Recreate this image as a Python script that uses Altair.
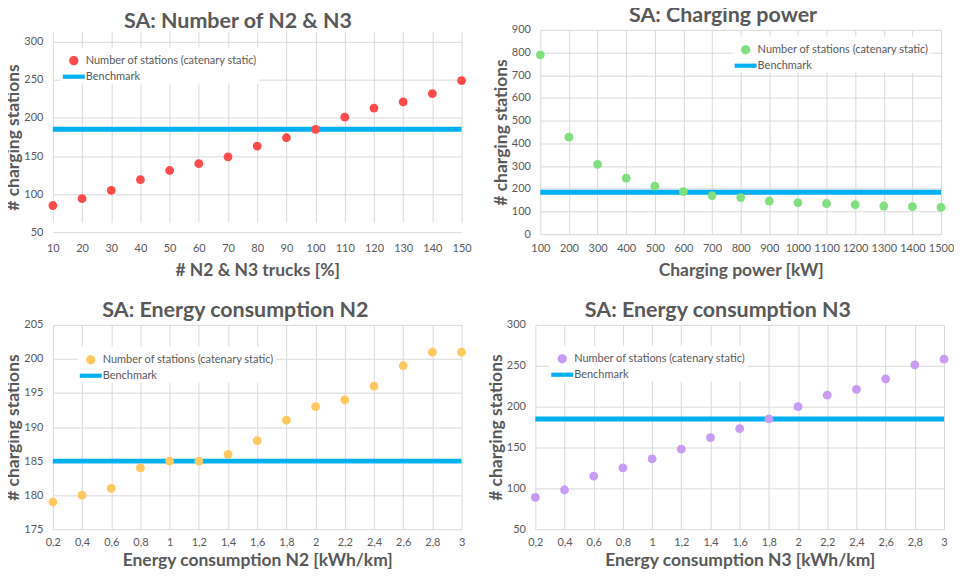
import altair as alt
import pandas as pd

# ---------------- data ----------------
p1_x = [10, 20, 30, 40, 50, 60, 70, 80, 90, 100, 110, 120, 130, 140, 150]
p1_y = [85, 94, 105, 119, 131, 140, 149, 163, 174, 185, 201, 213, 221, 232, 249]

p2_x = [100, 200, 300, 400, 500, 600, 700, 800, 900, 1000, 1100, 1200, 1300, 1400, 1500]
p2_y = [790, 427, 307, 247, 212, 187, 170, 161, 146, 139, 135, 130, 124, 121, 118]

p3_x = [0.2, 0.4, 0.6, 0.8, 1.0, 1.2, 1.4, 1.6, 1.8, 2.0, 2.2, 2.4, 2.6, 2.8, 3.0]
p3_y = [179, 180, 181, 184, 185, 185, 186, 188, 191, 193, 194, 196, 199, 201, 201]

p4_x = [0.2, 0.4, 0.6, 0.8, 1.0, 1.2, 1.4, 1.6, 1.8, 2.0, 2.2, 2.4, 2.6, 2.8, 3.0]
p4_y = [89, 98, 115, 125, 136, 148, 162, 173, 185, 200, 214, 221, 234, 251, 258]

benchmark = [185]

titles = ["SA: Number of N2 & N3", "SA: Charging power",
          "SA: Energy consumption N2", "SA: Energy consumption N3"]
x_titles = ["# N2 & N3 trucks [%]", "Charging power [kW]",
            "Energy consumption N2 [kWh/km]", "Energy consumption N3 [kWh/km]"]
y_title = "# charging stations"
series_name = "Number of stations (catenary static)"
bench_name = "Benchmark"

y_domains = [[50, 300], [0, 900], [175, 205], [50, 300]]
y_ticks = [[50, 100, 150, 200, 250, 300],
           [0, 100, 200, 300, 400, 500, 600, 700, 800, 900],
           [175, 180, 185, 190, 195, 200, 205],
           [50, 100, 150, 200, 250, 300]]

colors = ["#FF4B4B", "#80E080", "#FFC861", "#C89BF5"]
bench_color = "#00B0F0"

FONT = "Lato"
GREY = "#595959"

# legend glyphs (unit coordinates, scaled by symbol size)
CIRCLE_PATH = "M -0.42,0 A 0.42,0.42 0 1,0 0.42,0 A 0.42,0.42 0 1,0 -0.42,0 Z"
BAR_PATH = "M -1,-0.19 L 1,-0.19 L 1,0.19 L -1,0.19 Z"


def panel(xs, ys, ydom, yticks, color, title, xtitle, width, height,
          leg_x, leg_y, lp, tp, comma=False, yrange=None):
    df = pd.DataFrame({"x": xs, "y": ys, "s": [series_name] * len(xs)})
    bdf = pd.DataFrame({"b": benchmark, "s": [bench_name] * len(benchmark)})
    label_expr = "replace(format(datum.value, '.1~f'), '.', ',')" if comma else "format(datum.value, 'd')"
    xaxis = alt.Axis(values=xs, title=xtitle, labelExpr=label_expr,
                     labelFlush=False, labelPadding=lp, titlePadding=tp)
    yaxis = alt.Axis(values=yticks, title=y_title, labelPadding=10,
                     titlePadding=1)
    isb = "datum.value === 'Benchmark'"
    legend = alt.Legend(
        orient="none", legendX=leg_x, legendY=leg_y, title=None,
        fillColor="white", padding=2, labelFont=FONT, labelFontSize=11,
        labelColor=GREY, labelOffset=1, rowPadding=-7, labelLimit=500,
        symbolType={"expr": f"{isb} ? '{BAR_PATH}' : '{CIRCLE_PATH}'"},
        symbolSize=484,
        symbolStrokeWidth=0,
        symbolFillColor={"expr": f"{isb} ? '{bench_color}' : '{color}'"},
        symbolOpacity=1,
    )
    cscale = alt.Scale(domain=[series_name, bench_name], range=[color, bench_color])
    xs_scale = alt.Scale(domain=[xs[0], xs[-1]], nice=False, zero=False)
    if yrange is not None:
        ys_scale = alt.Scale(domain=ydom, nice=False, zero=False, range=yrange)
    else:
        ys_scale = alt.Scale(domain=ydom, nice=False, zero=False)

    rule = alt.Chart(bdf).mark_rule(strokeWidth=5).encode(
        y=alt.Y("b:Q", scale=ys_scale, axis=yaxis),
        color=alt.Color("s:N", scale=cscale, legend=legend),
    )
    pts = alt.Chart(df).mark_point(filled=True, size=78, opacity=1).encode(
        x=alt.X("x:Q", scale=xs_scale, axis=xaxis),
        y=alt.Y("y:Q", scale=ys_scale, axis=yaxis),
        color=alt.Color("s:N", scale=cscale, legend=legend),
    )
    return alt.layer(rule, pts).properties(
        width=width, height=height,
        title=alt.Title(title, offset=-3, frame="bounds", anchor="middle"),
    )


c1 = panel(p1_x, p1_y, y_domains[0], y_ticks[0], colors[0], titles[0], x_titles[0],
           410, 205, 8, 18, 8, 8, yrange=[203, 12])
c2 = panel(p2_x, p2_y, y_domains[1], y_ticks[1], colors[1], titles[1], x_titles[1],
           402, 205, 193, 7, 8, 8)
c3 = panel(p3_x, p3_y, y_domains[2], y_ticks[2], colors[2], titles[2], x_titles[2],
           410, 205, 25, 22, 7, 4, comma=True)
c4 = panel(p4_x, p4_y, y_domains[3], y_ticks[3], colors[3], titles[3], x_titles[3],
           410, 205, 14, 21, 7, 4, comma=True)

row1 = alt.hconcat(c1, c2, spacing=20).resolve_scale(color="independent").resolve_legend(color="independent")
row2 = alt.hconcat(c3, c4, spacing=20).resolve_scale(color="independent").resolve_legend(color="independent")

chart = alt.vconcat(row1, row2, spacing=21).resolve_scale(
    color="independent"
).resolve_legend(color="independent").properties(
    padding={"left": -4, "top": -4, "right": 0, "bottom": 0}
).configure(
    font=FONT
).configure_view(strokeWidth=0).configure_axis(
    labelFont=FONT, labelFontSize=11, labelColor=GREY,
    titleFont=FONT, titleFontSize=17.5, titleFontWeight="bold", titleColor=GREY,
    gridColor="#D9D9D9", gridWidth=1, domain=False, ticks=False,
).configure_title(
    font=FONT, fontSize=21.5, fontWeight="bold", color=GREY,
)

chart.save("out.html", embed_options={"renderer": "svg", "actions": False})
